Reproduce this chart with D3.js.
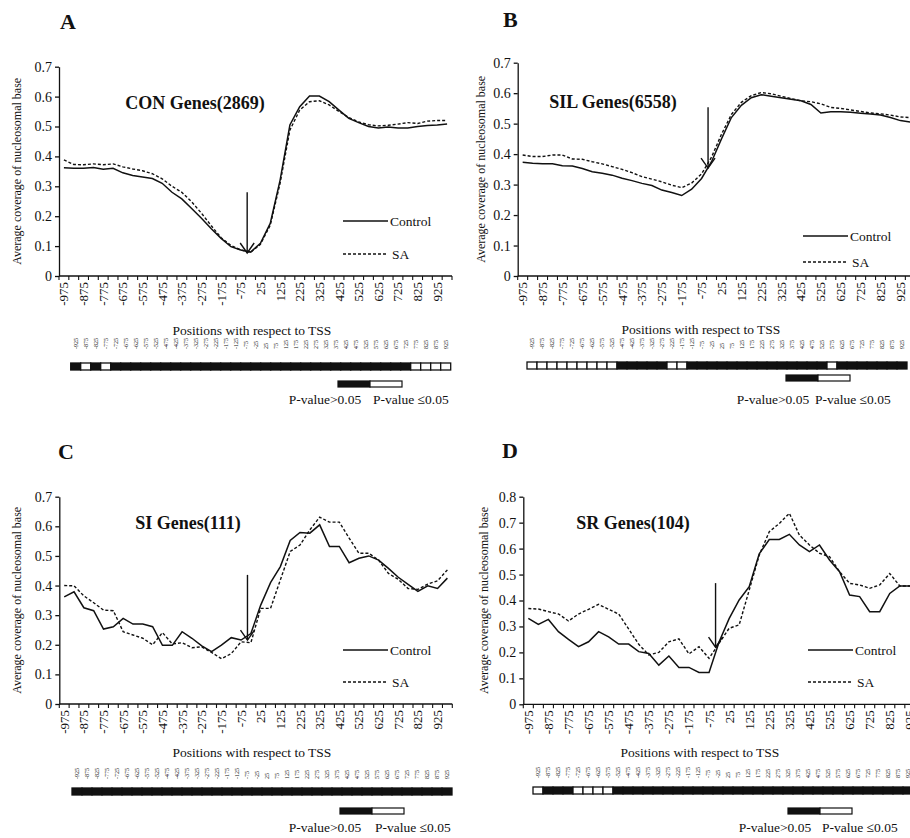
<!DOCTYPE html>
<html>
<head>
<meta charset="utf-8">
<script src="https://cdnjs.cloudflare.com/ajax/libs/d3/7.8.5/d3.min.js"></script>
<style>
  body { margin: 0; background: #fff; }
  svg { display: block; }
</style>
</head>
<body>
<svg id="chart" width="910" height="838"></svg>
<script>
// positions (bp) relative to the TSS, one per window
const positions = [-975,-925,-875,-825,-775,-725,-675,-625,-575,-525,-475,-425,-375,-325,-275,-225,-175,-125,-75,-25,
                   25,75,125,175,225,275,325,375,425,475,525,575,625,675,725,775,825,875,925,975];
// positions used in the significance strip under each panel
const stripPositions = [-925,-875,-825,-775,-725,-675,-625,-575,-525,-475,-425,-375,-325,-275,-225,-175,-125,-75,-25,
                        25,75,125,175,225,275,325,375,425,475,525,575,625,675,725,775,825,875,925];

const conControl = [0.362,0.36,0.36,0.363,0.357,0.36,0.345,0.336,0.331,0.326,0.31,0.28,0.258,0.226,0.193,0.158,0.126,0.098,0.087,0.08,
                    0.109,0.176,0.32,0.505,0.566,0.602,0.602,0.583,0.555,0.527,0.513,0.5,0.495,0.498,0.495,0.495,0.5,0.503,0.505,0.508];
const conSA      = [0.388,0.373,0.372,0.375,0.372,0.375,0.365,0.358,0.352,0.342,0.325,0.3,0.28,0.248,0.21,0.168,0.128,0.102,0.087,0.079,
                    0.106,0.17,0.31,0.488,0.555,0.583,0.586,0.572,0.55,0.53,0.515,0.506,0.502,0.504,0.508,0.513,0.51,0.518,0.52,0.52];
const silControl = [0.373,0.37,0.368,0.368,0.362,0.361,0.353,0.342,0.337,0.331,0.321,0.313,0.304,0.297,0.282,0.274,0.264,0.285,0.32,0.375,
                    0.45,0.52,0.56,0.585,0.595,0.59,0.585,0.58,0.575,0.563,0.535,0.539,0.539,0.537,0.534,0.532,0.528,0.52,0.51,0.505];
const silSA      = [0.397,0.392,0.392,0.397,0.397,0.384,0.383,0.375,0.368,0.359,0.35,0.339,0.326,0.318,0.309,0.298,0.29,0.305,0.335,0.39,
                    0.465,0.53,0.57,0.592,0.602,0.598,0.59,0.582,0.575,0.572,0.565,0.553,0.55,0.545,0.54,0.535,0.532,0.528,0.522,0.52];
const siControl  = [0.362,0.379,0.325,0.315,0.253,0.261,0.289,0.27,0.27,0.261,0.198,0.198,0.244,0.222,0.196,0.177,0.199,0.224,0.216,0.238,
                    0.334,0.41,0.464,0.552,0.579,0.577,0.605,0.532,0.532,0.477,0.492,0.5,0.486,0.458,0.428,0.404,0.38,0.399,0.39,0.425];
const siSA       = [0.4,0.399,0.365,0.342,0.317,0.315,0.244,0.233,0.222,0.2,0.241,0.203,0.207,0.19,0.193,0.174,0.153,0.17,0.21,0.207,
                    0.323,0.323,0.419,0.515,0.537,0.588,0.631,0.614,0.614,0.56,0.509,0.509,0.486,0.441,0.421,0.39,0.387,0.405,0.416,0.453];
const srControl  = [0.331,0.308,0.327,0.28,0.25,0.222,0.241,0.28,0.26,0.232,0.232,0.203,0.196,0.151,0.186,0.142,0.142,0.123,0.123,0.24,
                    0.33,0.402,0.453,0.58,0.635,0.635,0.655,0.614,0.588,0.614,0.556,0.511,0.421,0.415,0.357,0.357,0.427,0.456,0.456,0.44];
const srSA       = [0.369,0.367,0.357,0.348,0.321,0.348,0.366,0.385,0.366,0.348,0.29,0.231,0.19,0.2,0.241,0.252,0.194,0.222,0.177,0.235,
                    0.293,0.306,0.44,0.575,0.665,0.697,0.736,0.652,0.614,0.582,0.569,0.511,0.466,0.46,0.447,0.46,0.504,0.456,0.456,0.44];

// strip windows with P-value <= 0.05 (white); all others are black
const conSignificant = [-875,-775,775,825,875,925];
const silSignificant = [-925,-875,-825,-775,-725,-675,-625,-575,-525,-225,-175,575];
const siSignificant  = [];
const srSignificant  = [-925,-725,-675,-625,-575];

const yTicks7 = [0,0.1,0.2,0.3,0.4,0.5,0.6,0.7];
const yTicks8 = [0,0.1,0.2,0.3,0.4,0.5,0.6,0.7,0.8];

const panels = [
  {letter:"A", title:"CON Genes(2869)", control:conControl, sa:conSA, sig:conSignificant, yMax:0.7, yTicks:yTicks7,
   arrow:{at:-25, from:0.28, to:0.077},
   ax:59, yTop:66.7, yBot:276, w:393, letterX:60, letterY:29, titleX:195, titleY:109, yTitleX:17,
   legX:343, legY1:221, legY2:254, xTitleX:252, xTitleY:335, stripX:70.7, stripLabY:349, stripY:363,
   pX:338, pY:381, pTextY:404, pText1X:325, pText2X:373},
  {letter:"B", title:"SIL Genes(6558)", control:silControl, sa:silSA, sig:silSignificant, yMax:0.7, yTicks:yTicks7,
   arrow:{at:-25, from:0.554, to:0.354},
   ax:517.7, yTop:62.7, yBot:276, w:397.6, letterX:503, letterY:27, titleX:613, titleY:108, yTitleX:481,
   legX:803, legY1:236, legY2:262, xTitleX:701, xTitleY:334, stripX:527, stripLabY:349, stripY:362,
   pX:786, pY:375, pTextY:404, pText1X:773, pText2X:815},
  {letter:"C", title:"SI Genes(111)", control:siControl, sa:siSA, sig:siSignificant, yMax:0.7, yTicks:yTicks7,
   arrow:{at:-25, from:0.436, to:0.216},
   ax:59.3, yTop:496.7, yBot:704, w:393, letterX:58, letterY:459, titleX:188, titleY:529, yTitleX:17,
   legX:343, legY1:650, legY2:682, xTitleX:252, xTitleY:757, stripX:72, stripLabY:779, stripY:788,
   pX:340, pY:808, pTextY:832, pText1X:325, pText2X:375},
  {letter:"D", title:"SR Genes(104)", control:srControl, sa:srSA, sig:srSignificant, yMax:0.8, yTicks:yTicks8,
   arrow:{at:-25, from:0.467, to:0.22},
   ax:523.3, yTop:496.7, yBot:704.3, w:401.6, letterX:502, letterY:458, titleX:633, titleY:529, yTitleX:484,
   legX:808, legY1:650, legY2:682, xTitleX:700, xTitleY:757, stripX:533, stripLabY:778, stripY:787,
   pX:788, pY:808, pTextY:832, pText1X:775, pText2X:822}
];

const FONT = "'Liberation Serif', 'Times New Roman', Times, 'DejaVu Serif', serif";
const svg = d3.select("#chart").attr("font-family", FONT);
const ink = "#111";

function txt(sel, size) {
  return sel.attr("font-family", FONT).attr("font-size", size).attr("fill", ink);
}

function drawPanel(p) {
  const g = svg.append("g");
  const x = d3.scaleBand().domain(positions).range([p.ax, p.ax + p.w]);
  const y = d3.scaleLinear().domain([0, p.yMax]).range([p.yBot, p.yTop]);
  const cx = d => x(d) + x.bandwidth() / 2;

  // panel letter
  txt(g.append("text"), 22).attr("x", p.letterX).attr("y", p.letterY)
    .attr("font-weight", "bold").text(p.letter);

  // y axis
  const yAxis = d3.axisLeft(y).tickValues(p.yTicks).tickSize(4).tickSizeOuter(0)
    .tickFormat(d => d === 0 ? "0" : d.toFixed(1));
  const ya = g.append("g").attr("transform", "translate(" + p.ax + ",0)").call(yAxis);
  ya.attr("font-family", FONT).attr("font-size", 14);
  ya.selectAll("path, line").attr("stroke", ink).attr("stroke-width", 1.3);
  ya.selectAll("text").attr("fill", ink);

  txt(g.append("text"), 12)
    .attr("transform", "translate(" + p.yTitleX + "," + ((p.yTop + p.yBot) / 2) + ") rotate(-90)")
    .attr("text-anchor", "middle").attr("dy", "0.35em")
    .text("Average coverage of nucleosomal base");

  // x axis: line, ticks at window boundaries, every other label
  g.append("line").attr("x1", p.ax).attr("x2", p.ax + p.w).attr("y1", p.yBot).attr("y2", p.yBot)
    .attr("stroke", ink).attr("stroke-width", 1.3);
  const bounds = positions.map(d => x(d)).concat([p.ax + p.w]);
  g.selectAll(".xtick").data(bounds).enter().append("line")
    .attr("x1", d => d).attr("x2", d => d).attr("y1", p.yBot).attr("y2", p.yBot + 4)
    .attr("stroke", ink).attr("stroke-width", 1.1);
  txt(g.selectAll(".xlab").data(positions.filter((d, i) => i % 2 === 0)).enter().append("text"), 13)
    .attr("transform", d => "translate(" + (cx(d) + 4.5) + "," + (p.yBot + 6) + ") rotate(-90)")
    .attr("text-anchor", "end").text(d => d);

  txt(g.append("text"), 13.5).attr("x", p.xTitleX).attr("y", p.xTitleY).attr("text-anchor", "middle")
    .text("Positions with respect to TSS");

  // title
  txt(g.append("text"), 18).attr("x", p.titleX).attr("y", p.titleY).attr("text-anchor", "middle")
    .attr("font-weight", "bold").text(p.title);

  // series
  const line = d3.line().x((d, i) => cx(positions[i])).y(d => y(d));
  g.append("path").attr("d", line(p.control)).attr("fill", "none")
    .attr("stroke", ink).attr("stroke-width", 1.5);
  g.append("path").attr("d", line(p.sa)).attr("fill", "none")
    .attr("stroke", ink).attr("stroke-width", 1.4).attr("stroke-dasharray", "3,2");

  // TSS arrow
  const axx = x(p.arrow.at) + 1.5, ay1 = y(p.arrow.from), ay2 = y(p.arrow.to);
  g.append("line").attr("x1", axx).attr("x2", axx).attr("y1", ay1).attr("y2", ay2)
    .attr("stroke", ink).attr("stroke-width", 1.4);
  g.append("path").attr("d", "M" + (axx - 7) + "," + (ay2 - 10) + "L" + axx + "," + ay2 + "L" + (axx + 7) + "," + (ay2 - 10))
    .attr("fill", "none").attr("stroke", ink).attr("stroke-width", 1.4);

  // legend
  g.append("line").attr("x1", p.legX).attr("x2", p.legX + 45).attr("y1", p.legY1).attr("y2", p.legY1)
    .attr("stroke", ink).attr("stroke-width", 1.5);
  txt(g.append("text"), 13.5).attr("x", p.legX + 47).attr("y", p.legY1).attr("dy", "0.35em").text("Control");
  g.append("line").attr("x1", p.legX).attr("x2", p.legX + 45).attr("y1", p.legY2).attr("y2", p.legY2)
    .attr("stroke", ink).attr("stroke-width", 1.4).attr("stroke-dasharray", "3,2");
  txt(g.append("text"), 13.5).attr("x", p.legX + 49).attr("y", p.legY2).attr("dy", "0.35em").text("SA");

  // significance strip
  const sx = d3.scaleBand().domain(stripPositions).range([p.stripX, p.stripX + 380]);
  txt(g.selectAll(".slab").data(stripPositions).enter().append("text"), 6)
    .attr("transform", d => "translate(" + (sx(d) + sx.bandwidth() / 2 + 2) + "," + p.stripLabY + ") rotate(-90)")
    .attr("text-anchor", "start").text(d => d);
  g.selectAll(".cell").data(stripPositions).enter().append("rect")
    .attr("x", d => sx(d)).attr("y", p.stripY).attr("width", sx.bandwidth()).attr("height", 7)
    .attr("fill", d => p.sig.includes(d) ? "#fff" : ink)
    .attr("stroke", ink).attr("stroke-width", 1.3);

  // P-value key
  g.append("rect").attr("x", p.pX).attr("y", p.pY).attr("width", 32).attr("height", 6)
    .attr("fill", ink).attr("stroke", ink).attr("stroke-width", 1.2);
  g.append("rect").attr("x", p.pX + 32).attr("y", p.pY).attr("width", 32).attr("height", 6)
    .attr("fill", "#fff").attr("stroke", ink).attr("stroke-width", 1.2);
  txt(g.append("text"), 13.5).attr("x", p.pText1X).attr("y", p.pTextY).attr("text-anchor", "middle")
    .text("P-value>0.05");
  txt(g.append("text"), 13.5).attr("x", p.pText2X).attr("y", p.pTextY)
    .text("P-value \u22640.05");
}

panels.forEach(drawPanel);
</script>
</body>
</html>
